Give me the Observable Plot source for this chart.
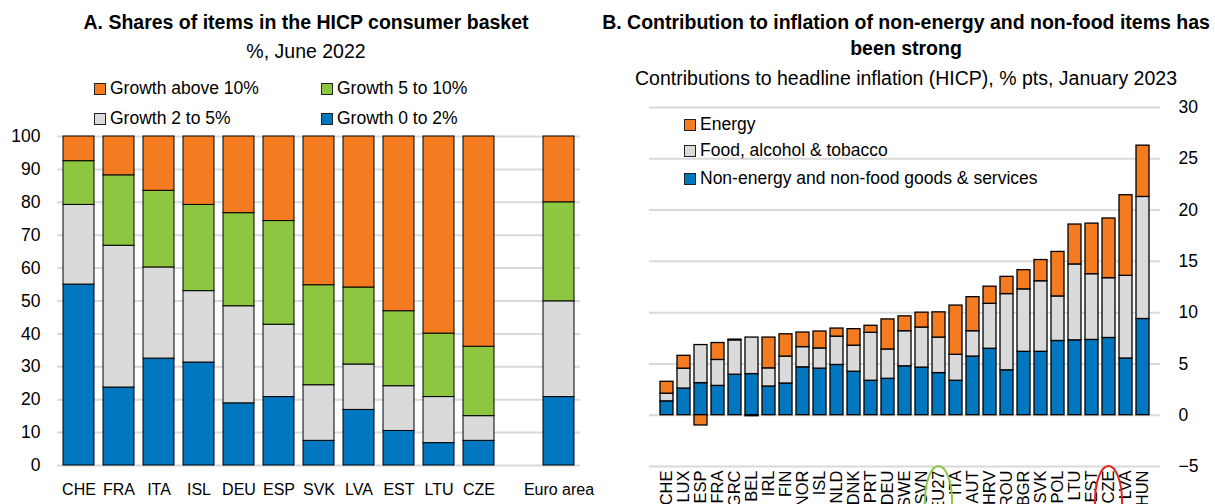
<!DOCTYPE html>
<html><head><meta charset="utf-8">
<script src="https://cdn.jsdelivr.net/npm/d3@7"></script>
<script src="https://cdn.jsdelivr.net/npm/@observablehq/plot@0.6"></script>
<style>
body{margin:0;background:#fff;font-family:"Liberation Sans",Arial,sans-serif;color:#000;}
#root{position:relative;width:1215px;height:504px;overflow:hidden;}
.abs{position:absolute;white-space:nowrap;line-height:1;}
.ttl{font-weight:bold;font-size:19.5px;transform:translateX(-50%);}
.sub{font-size:19.5px;transform:translateX(-50%);}
.leg{font-size:17.5px;display:flex;align-items:center;}
.sw{display:inline-block;width:10px;height:10px;border:1px solid #222;margin-right:4px;}
#pa,#pb{position:absolute;top:0;}
#pa{left:0;} #pb{left:600px;}
</style></head><body><div id="root">
<div id="pa"></div><div id="pb"></div>
</div>
<script>
// ---------- Panel A data ----------
const countriesA = ["CHE","FRA","ITA","ISL","DEU","ESP","SVK","LVA","EST","LTU","CZE","Euro area"];
const seriesA = ["Growth 0 to 2%","Growth 2 to 5%","Growth 5 to 10%","Growth above 10%"];
const growth0to2   = [55.0,23.7,32.5,31.3,18.9,20.8, 7.5,16.9,10.5, 6.8, 7.5,20.8];
const growth2to5   = [24.2,43.1,27.7,21.7,29.5,22.0,16.9,13.8,13.6,14.0, 7.5,29.1];
const growth5to10  = [13.3,21.4,23.3,26.2,28.3,31.5,30.4,23.4,22.8,19.3,21.1,30.1];
const growthAbove10= [ 7.5,11.8,16.5,20.8,23.3,25.7,45.2,45.9,53.1,59.9,63.9,20.0];
const yTicksA = [0,10,20,30,40,50,60,70,80,90,100];

// ---------- Panel B data ----------
const countriesB = ["CHE","LUX","ESP","FRA","GRC","BEL","IRL","FIN","NOR","ISL","NLD","DNK","PRT","DEU","SWE","SVN","EU27","ITA","AUT","HRV","ROU","BGR","SVK","POL","LTU","EST","CZE","LVA","HUN"];
const seriesB = ["Non-energy and non-food goods & services","Food, alcohol & tobacco","Energy"];
const coreB   = [1.35,2.60,3.13,2.86,3.95,4.01,2.80,3.09,4.67,4.54,4.90,4.24,3.36,3.55,4.77,4.64,4.11,3.36,5.72,6.48,4.38,6.18,6.18,7.24,7.30,7.34,7.53,5.53,9.38];
const foodB   = [0.75,1.94,3.71,2.53,3.35,3.56,1.77,2.63,1.97,1.97,2.76,2.54,4.67,2.86,3.42,3.91,3.46,2.53,2.47,4.38,7.43,6.09,6.88,4.34,7.40,6.41,5.83,8.06,11.90];
const energyB = [1.16,1.25,-1.00,1.65,0.07,-0.10,3.00,2.17,1.42,1.65,0.79,1.61,0.69,2.93,1.45,1.45,2.46,4.80,3.32,1.67,1.68,1.87,2.07,4.34,3.89,4.93,5.82,7.86,5.00];
const yTicksB = [-5,0,5,10,15,20,25,30];
const highlightGreen = "EU27", highlightRed = "CZE";

const ORANGE="#F47B20", GREEN="#8DC641", GREY="#DADADA", BLUE="#0077BF";
const FONT = '"Liberation Sans", Arial, sans-serif';

// ---------- Panel A ----------
const valsA = [growth0to2, growth2to5, growth5to10, growthAbove10];
const tableA = [];
seriesA.forEach((s, i) => countriesA.forEach((c, j) => tableA.push({country: c, series: s, value: valsA[i][j]})));
const xDomainA = [...countriesA.slice(0, -1), " ", countriesA[countriesA.length - 1]];

const plotA = Plot.plot({
  width: 600, height: 504,
  marginLeft: 57, marginRight: 20, marginTop: 136, marginBottom: 39,
  style: {fontFamily: FONT, fontSize: "17px", color: "#000", background: "transparent"},
  x: {domain: xDomainA, paddingInner: 0.23, paddingOuter: 0.12, label: null},
  y: {domain: [0, 100], label: null},
  color: {domain: seriesA, range: [BLUE, GREY, GREEN, ORANGE]},
  marks: [
    Plot.gridY(yTicksA, {stroke: "#d9d9d9", strokeOpacity: 1, strokeWidth: 2}),
    Plot.barY(tableA, {x: "country", y: "value", fill: "series", stroke: "#000", strokeWidth: 1}),
    Plot.axisY(yTicksA, {tickSize: 0, tickPadding: 17, fontSize: 17.5, label: null}),
    Plot.axisX({tickSize: 0, tickPadding: 18, fontSize: 16, label: null, tickFormat: d => d.trim()})
  ]
});
document.getElementById("pa").appendChild(plotA);

// ---------- Panel B ----------
const valsB = [coreB, foodB, energyB];
const tableB = [];
seriesB.forEach((s, i) => countriesB.forEach((c, j) => tableB.push({country: c, series: s, value: valsB[i][j]})));

const plotB = Plot.plot({
  width: 615, height: 504,
  marginLeft: 49, marginRight: 55, marginTop: 107, marginBottom: 38,
  style: {fontFamily: FONT, fontSize: "17px", color: "#000", background: "transparent"},
  x: {domain: countriesB, paddingInner: 0.23, paddingOuter: 0.1, label: null},
  y: {domain: [-5, 30], label: null},
  color: {domain: seriesB, range: [BLUE, GREY, ORANGE]},
  marks: [
    Plot.gridY(yTicksB, {stroke: "#d9d9d9", strokeOpacity: 1, strokeWidth: 2}),
    Plot.barY(tableB, {x: "country", y: "value", fill: "series", stroke: "#000", strokeWidth: 1.3}),
    Plot.axisY(yTicksB, {anchor: "right", tickSize: 0, tickPadding: 18, fontSize: 17.5, label: null}),
    Plot.axisX({tickSize: 0, tickPadding: 4, tickRotate: -90, fontSize: 16.5, label: null})
  ]
});
document.getElementById("pb").appendChild(plotB);

// highlight ellipses around two x labels, positioned with the x scale
const xsB = plotB.scale("x");
const yBottomB = 504 - 38;
[[highlightGreen, GREEN], [highlightRed, "#E2231A"]].forEach(([c, col]) => {
  d3.select(plotB).append("ellipse")
    .attr("cx", xsB.apply(c) + xsB.bandwidth / 2)
    .attr("cy", yBottomB + 35)
    .attr("rx", 13.5).attr("ry", 35)
    .attr("fill", "none").attr("stroke", col).attr("stroke-width", 2);
});

// ---------- Titles and legends (HTML) ----------
const root = document.getElementById("root");
function addText(cls, text, left, top) {
  const d = document.createElement("div");
  d.className = "abs " + cls; d.textContent = text;
  d.style.left = left + "px"; d.style.top = top + "px";
  root.appendChild(d); return d;
}
function addLegend(label, color, left, top, size) {
  const d = document.createElement("div");
  d.className = "abs leg"; d.style.left = left + "px"; d.style.top = top + "px";
  if (size) d.style.fontSize = size + "px";
  const s = document.createElement("span"); s.className = "sw"; s.style.background = color;
  d.appendChild(s); d.appendChild(document.createTextNode(label));
  root.appendChild(d);
}
addText("ttl", "A. Shares of items in the HICP consumer basket", 306, 13);
addText("sub", "%, June 2022", 306, 42);
addLegend("Growth above 10%", ORANGE, 94, 80);
addLegend("Growth 5 to 10%", GREEN, 321, 80);
addLegend("Growth 2 to 5%", GREY, 94, 110);
addLegend("Growth 0 to 2%", BLUE, 321, 110);

addText("ttl", "B. Contribution to inflation of non-energy and non-food items has", 906, 13);
addText("ttl", "been strong", 906, 39);
addText("sub", "Contributions to headline inflation (HICP), % pts, January 2023", 906, 69);
addLegend("Energy", ORANGE, 684, 116, 17.5);
addLegend("Food, alcohol & tobacco", GREY, 684, 142, 17.5);
addLegend("Non-energy and non-food goods & services", BLUE, 684, 170, 17.5);
</script></body></html>
